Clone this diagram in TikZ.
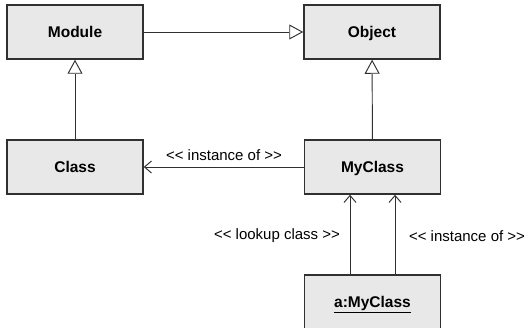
\documentclass[tikz,border=0pt]{standalone}
\usepackage{fontspec}
\setmainfont{Liberation Sans}
\usetikzlibrary{arrows.meta}
\definecolor{boxfill}{HTML}{E8E8E8}
\definecolor{edge}{HTML}{303030}
\tikzset{
  umlbox/.style={draw=edge, fill=boxfill, line width=1.5pt, minimum width=136pt, minimum height=54pt, inner sep=0pt, text height=11pt, text depth=0pt, font=\fontsize{15.5}{18}\selectfont\bfseries},
  conn/.style={draw=edge, line width=0.95pt},
  gen/.style={conn, -{Triangle[open, length=14pt, width=15pt, fill=white]}},
  assoc/.style={conn, -{Straight Barb[length=7pt, width=12pt]}},
  lbl/.style={font=\fontsize{15}{18}\selectfont, inner sep=0pt}
}
\begin{document}
\begin{tikzpicture}[x=1pt, y=-1pt]
\useasboundingbox (0,0) rectangle (527,328);
\node[umlbox] (module) at (75,32) {Module};
\node[umlbox] (object) at (372,32) {Object};
\node[umlbox] (class) at (75,167) {Class};
\node[umlbox] (myclass) at (372.5,167) {MyClass};
\node[umlbox, minimum height=58pt] (aobj) at (372.5,304) {\raisebox{2pt}{\underline{a:MyClass}}};
\draw[gen] (module) -- (object);
\draw[gen] (class) -- (module);
\draw[gen] (myclass) -- (object);
\draw[assoc] (myclass) -- (class);
\draw[assoc] ([xshift=-22.5pt]aobj.north) -- ([xshift=-22.5pt]myclass.south);
\draw[assoc] ([xshift=22.5pt]aobj.north) -- ([xshift=22.5pt]myclass.south);
\node[lbl] (l1) at (224,155) {<{}< instance of >{}>};
\node[lbl] (l2) at (277,236) {<{}< lookup class >{}>};
\node[lbl] (l3) at (467,236) {<{}< instance of >{}>};
\end{tikzpicture}
\end{document}
